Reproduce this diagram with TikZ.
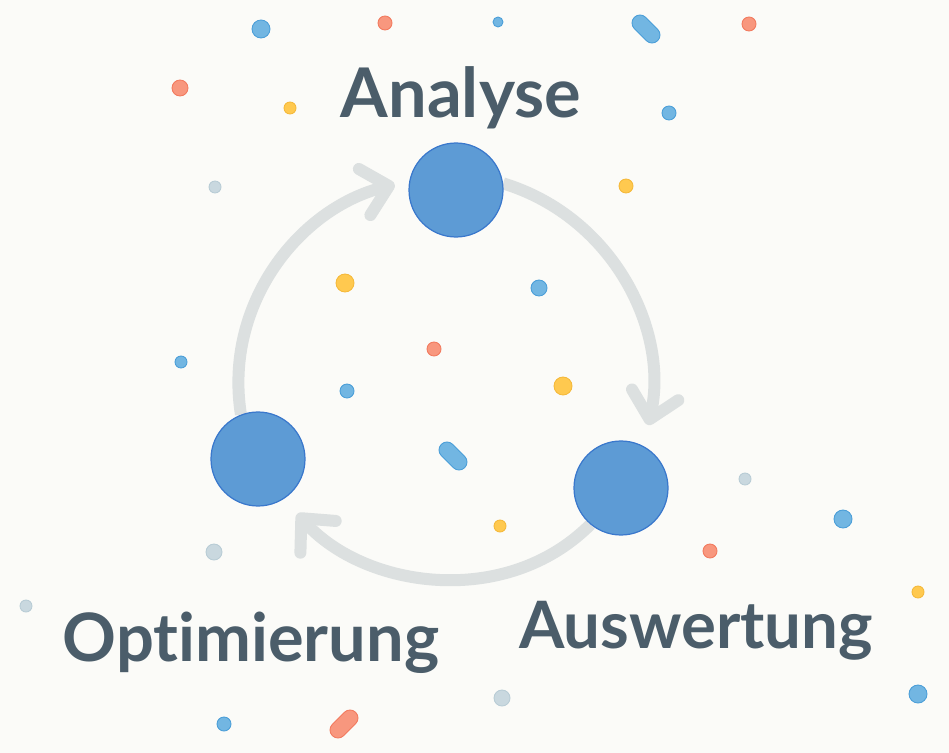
\documentclass[tikz,border=0pt]{standalone}
\usepackage{fontspec}
\setmainfont{Lato}[Ligatures=NoCommon]
\usepackage{tikz}
\usetikzlibrary{arrows.meta, backgrounds}
\definecolor{bgcol}{HTML}{FBFBF8}
\definecolor{stagefill}{HTML}{5D9BD5}
\definecolor{stageedge}{HTML}{3A78CC}
\definecolor{cyclegray}{HTML}{DCE0E0}
\definecolor{labelcol}{HTML}{4B5D6A}
\definecolor{cblue}{HTML}{72B6E2}
\definecolor{cblueedge}{HTML}{4A9ED8}
\definecolor{csalmon}{HTML}{F8977E}
\definecolor{csalmonedge}{HTML}{F27A5E}
\definecolor{cyellow}{HTML}{FFC94F}
\definecolor{cyellowedge}{HTML}{F5B93A}
\definecolor{cgray}{HTML}{C9D8DF}
\definecolor{cgrayedge}{HTML}{B8CCD5}
\tikzset{
    stage/.style={circle, minimum size=1.88cm, inner sep=0pt,
        fill=stagefill, draw=stageedge, line width=0.7pt},
    stagelabel/.style={anchor=base, inner sep=0pt, text=labelcol},
    cyclearrow/.style={draw=cyclegray, line width=0.24cm,
        -{Straight Barb[length=0.5cm, width=0.95cm, round]}},
    dblue/.style={fill=cblue, draw=cblueedge, line width=0.5pt},
    dsalmon/.style={fill=csalmon, draw=csalmonedge, line width=0.5pt},
    dyellow/.style={fill=cyellow, draw=cyellowedge, line width=0.5pt},
    dgray/.style={fill=cgray, draw=cgrayedge, line width=0.5pt},
    pill/.style={rectangle, minimum width=0.66cm, minimum height=0.32cm,
        inner sep=0pt, rounded corners=0.16cm},
}
\begin{document}
\begin{tikzpicture}[x=0.02cm, y=0.02cm]
        \useasboundingbox (0,0) rectangle (949,-753);
        \begin{scope}[on background layer]
            \fill[bgcol] (0,0) rectangle (949,-753);
        \end{scope}

        \node[stage] (ana)  at (456,-190) {};
        \node[stage] (ausw) at (621,-488) {};
        \node[stage] (opt)  at (258,-459) {};

        \node[stagelabel, font=\fontsize{39}{47}\selectfont\bfseries]     (anatxt)  at (461,-118) {Analyse};
        \node[stagelabel, font=\fontsize{37.2}{45}\selectfont\bfseries]   (auswtxt) at (696,-648) {Auswertung};
        \node[stagelabel, font=\fontsize{38}{46}\selectfont\bfseries]     (opttxt)  at (251,-661) {Optimierung};

        \begin{scope}[on background layer]
            \draw[cyclearrow, shorten >=0.3cm]  (opt.111)  to[out=99, in=194]  (ana.169);
            \draw[cyclearrow, shorten >=0.43cm] (ana.8)    to[out=343, in=77]  (ausw.62);
            \draw[cyclearrow, shorten >=0.4cm]  (ausw.230) to[out=225, in=312] (opt.303);
        \end{scope}

        \foreach \x/\y/\r/\c in {
            261/29/9/dblue, 385/23/7/dsalmon, 498/22/5/dblue, 749/24/7/dsalmon,
            180/88/8/dsalmon, 290/108/6/dyellow, 669/113/7/dblue, 215/187/6/dgray,
            626/186/7/dyellow, 345/283/9/dyellow, 539/288/8/dblue, 181/362/6/dblue,
            434/349/7/dsalmon, 347/391/7/dblue, 563/386/9/dyellow, 745/479/6/dgray,
            843/519/9/dblue, 500/526/6/dyellow, 710/551/7/dsalmon, 214/552/8/dgray,
            918/592/6/dyellow, 26/606/6/dgray, 502/698/8/dgray, 918/694/9/dblue,
            224/724/7/dblue}
            \path[\c] (\x,-\y) circle[radius=\r];

        \node[pill, dblue, rotate=-45]   (p1) at (646,-29)  {};
        \node[pill, dblue, rotate=-45]   (p2) at (453,-456) {};
        \node[pill, dsalmon, rotate=45]  (p3) at (344,-724) {};
\end{tikzpicture}
\end{document}
